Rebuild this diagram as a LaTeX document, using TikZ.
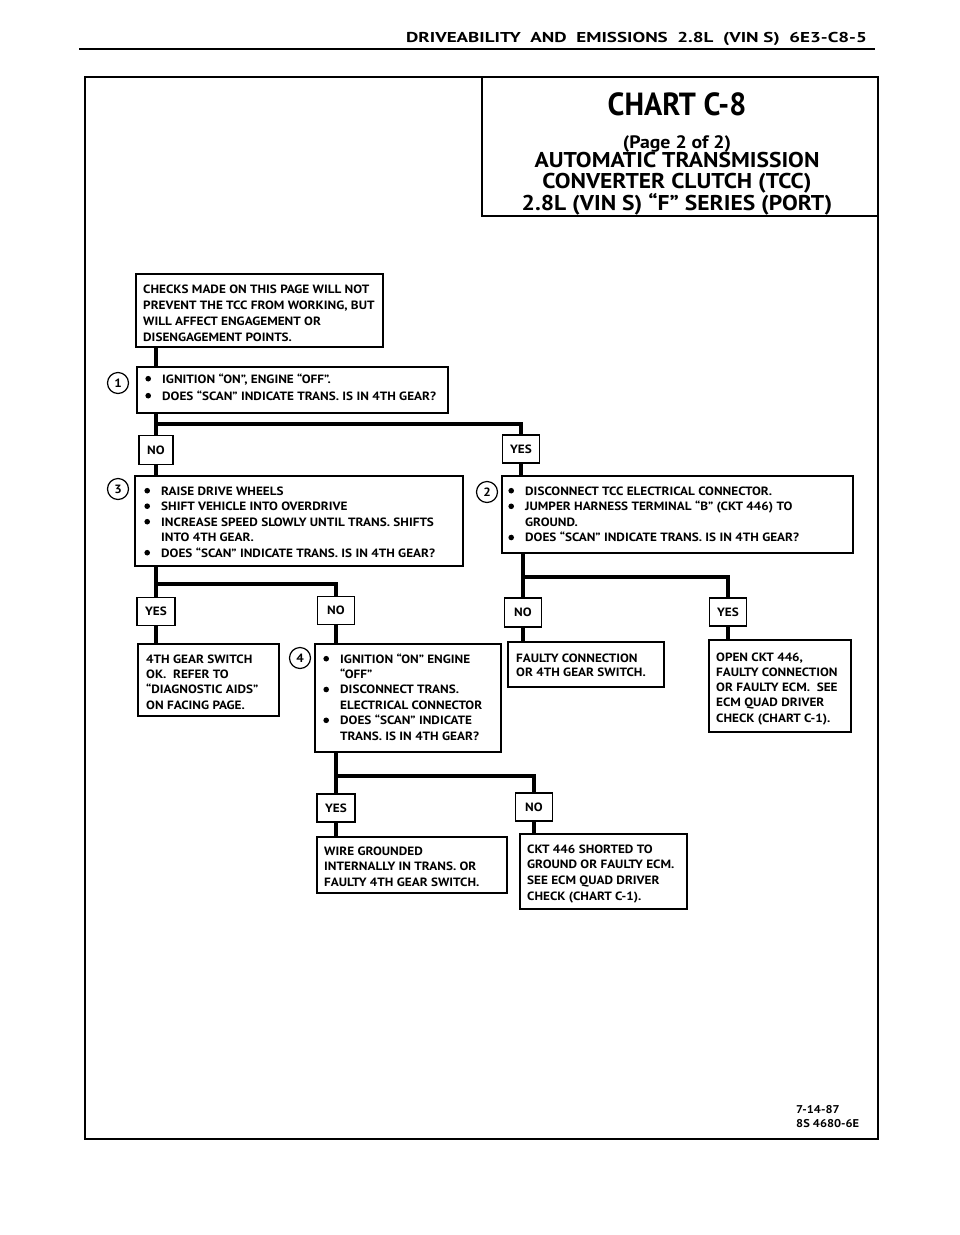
\documentclass[tikz,border=0pt]{standalone}
\usepackage{fontspec}
\setmainfont{PT Sans}
\newfontfamily\bodyfont{PT Sans}[FakeStretch=1.1]
\usetikzlibrary{calc,fit}
\tikzset{
  box/.style={draw, line width=1.5pt, inner sep=0pt},
  frame/.style={draw, line width=2pt, inner sep=0pt},
  conn/.style={line width=3.8pt, line join=miter, line cap=butt},
  yn/.style={draw, line width=1.5pt, inner sep=0pt, minimum width=37pt, minimum height=28pt, font=\bodyfont\bfseries\fontsize{12}{13}\selectfont},
  num/.style={circle, draw, line width=1.2pt, minimum size=21pt, inner sep=0pt, font=\bodyfont\bfseries\fontsize{12}{13}\selectfont},
  txt/.style={anchor=base west, inner sep=0pt, font=\bodyfont\bfseries\fontsize{12}{13}\selectfont},
  ttl/.style={anchor=base, inner sep=0pt},
}
\newcommand\bul{\llap{\tikz[baseline=0pt]\fill (0pt,4.3pt) circle (2.8pt);\hspace{11.2pt}}}
\newcommand\lines[5]{\foreach \t [count=\i] in {#5}{\node[txt] (#1\i) at (#2,{#3+(\i-1)*#4}) {\t};}}
\begin{document}
\begin{tikzpicture}[x=1pt,y=-1pt]
\useasboundingbox (0,0) rectangle (960,1235);
% header
\node[anchor=base east, inner sep=0pt, font=\bfseries\fontsize{14.3}{16}\selectfont] (head) at (867,42) {\scalebox{1.33}[1]{DRIVEABILITY\ \ AND\ \ EMISSIONS\ \ 2.8L\ \ (VIN S)\ \ 6E3-C8-5}};
\coordinate (rl) at (79,49);
\coordinate (rr) at (875,49);
\draw[line width=2pt] (rl) -- (rr);
% outer frame and title box
\node[frame, fit={(85,77) (878,1139)}] (outer) {};
\node[box, fit={(482,77) (878,216)}] (title) {};
\node[ttl, font=\bfseries\fontsize{32}{34}\selectfont] (t1) at (677,115) {\scalebox{0.94}[1]{CHART C-8}};
\node[ttl, font=\bodyfont\bfseries\fontsize{18}{20}\selectfont] (t2) at (677,148) {(Page 2 of 2)};
\node[ttl, font=\bodyfont\bfseries\fontsize{21.4}{23}\selectfont] (t3) at (677,167) {AUTOMATIC TRANSMISSION};
\node[ttl, font=\bodyfont\bfseries\fontsize{21.4}{23}\selectfont] (t4) at (677,188) {CONVERTER CLUTCH (TCC)};
\node[ttl, font=\bodyfont\bfseries\fontsize{21.4}{23}\selectfont] (t5) at (677,210) {2.8L (VIN S) “F” SERIES (PORT)};
% boxes
\node[box, fit={(136,274) (383,347)}] (checks) {};
\lines{ck}{143}{293}{16}{{CHECKS MADE ON THIS PAGE WILL NOT},{PREVENT THE TCC FROM WORKING, BUT},{WILL AFFECT ENGAGEMENT OR},{DISENGAGEMENT POINTS.}}
\node[box, fit={(137,367) (448,413)}] (s1) {};
\lines{sa}{162}{383}{17}{{\bul IGNITION “ON”, ENGINE “OFF”.},{\bul DOES “SCAN” INDICATE TRANS. IS IN 4TH GEAR?}}
\node[num] (c1) at (118,383) {1};
\node[yn, minimum width=34pt, minimum height=29pt] (no1) at (156,450) {NO};
\node[yn] (yes1) at (521,449) {YES};
\node[box, fit={(135,476) (463,566)}] (s3) {};
\lines{sc}{161}{495}{15.5}{{\bul RAISE DRIVE WHEELS},{\bul SHIFT VEHICLE INTO OVERDRIVE},{\bul INCREASE SPEED SLOWLY UNTIL TRANS. SHIFTS},{INTO 4TH GEAR.},{\bul DOES “SCAN” INDICATE TRANS. IS IN 4TH GEAR?}}
\node[num] (c3) at (118,489) {3};
\node[box, fit={(502,476) (853,553)}] (s2) {};
\lines{sb}{525}{495}{15.6}{{\bul DISCONNECT TCC ELECTRICAL CONNECTOR.},{\bul JUMPER HARNESS TERMINAL “B” (CKT 446) TO},{GROUND.},{\bul DOES “SCAN” INDICATE TRANS. IS IN 4TH GEAR?}}
\node[num] (c2) at (487,492) {2};
\node[yn, minimum width=38pt] (yes3) at (156,611.5) {YES};
\node[yn] (no3) at (336,610.5) {NO};
\node[yn, minimum height=29pt] (no2) at (523,612.5) {NO};
\node[yn] (yes2) at (728,612) {YES};
\node[box, fit={(138,644) (279,716)}] (gear) {};
\lines{gs}{146}{663}{15.4}{{4TH GEAR SWITCH},{OK.\ \ REFER TO},{“DIAGNOSTIC AIDS”},{ON FACING PAGE.}}
\node[box, fit={(315,644) (501,752)}] (s4) {};
\lines{sd}{340}{663}{15.4}{{\bul IGNITION “ON” ENGINE},{“OFF”},{\bul DISCONNECT TRANS.},{ELECTRICAL CONNECTOR},{\bul DOES “SCAN” INDICATE},{TRANS. IS IN 4TH GEAR?}}
\node[num] (c4) at (300,658) {4};
\node[box, fit={(508,642) (664,687)}] (faulty) {};
\lines{fc}{516}{662}{14.5}{{FAULTY CONNECTION},{OR 4TH GEAR SWITCH.}}
\node[box, fit={(709,640) (851,732)}] (open) {};
\lines{oc}{716}{661}{15.3}{{OPEN CKT 446,},{FAULTY CONNECTION},{OR FAULTY ECM.\ \ SEE},{ECM QUAD DRIVER},{CHECK (CHART C-1).}}
\node[yn, minimum width=38pt] (yes4) at (336,808) {YES};
\node[yn] (no4) at (534,807) {NO};
\node[box, fit={(317,837) (507,893)}] (wire) {};
\lines{wg}{324}{855}{15.5}{{WIRE GROUNDED},{INTERNALLY IN TRANS. OR},{FAULTY 4TH GEAR SWITCH.}}
\node[box, fit={(520,834) (687,909)}] (ckt) {};
\lines{ks}{527}{853}{15.7}{{CKT 446 SHORTED TO},{GROUND OR FAULTY ECM.},{SEE ECM QUAD DRIVER},{CHECK (CHART C-1).}}
% date
\node[txt, font=\bodyfont\bfseries\fontsize{11.3}{12}\selectfont] (d1) at (796,1113) {7-14-87};
\node[txt, font=\bodyfont\bfseries\fontsize{11.3}{12}\selectfont] (d2) at (796,1127) {8S 4680-6E};
% connectors
\draw[conn] (checks.south -| no1) -- (s1.north -| no1);
\draw[conn] (s1.south -| no1) -- (no1.north);
\draw[conn] ($(s1.south -| no1)+(0,10)$) -| (yes1.north);
\draw[conn] (no1.south) -- (s3.north -| no1);
\draw[conn] (yes1.south) -- (s2.north -| yes1);
\draw[conn] (s3.south -| yes3) -- (yes3.north);
\draw[conn] ($(s3.south -| yes3)+(0,17)$) -| (no3.north);
\draw[conn] (yes3.south) -- (gear.north -| yes3);
\draw[conn] (no3.south) -- (s4.north -| no3);
\draw[conn] (s2.south -| no2) -- (no2.north);
\draw[conn] ($(s2.south -| no2)+(0,23)$) -| (yes2.north);
\draw[conn] (no2.south) -- (faulty.north -| no2);
\draw[conn] (yes2.south) -- (open.north -| yes2);
\draw[conn] (s4.south -| yes4) -- (yes4.north);
\draw[conn] ($(s4.south -| yes4)+(0,23)$) -| (no4.north);
\draw[conn] (yes4.south) -- (wire.north -| yes4);
\draw[conn] (no4.south) -- (ckt.north -| no4);
\end{tikzpicture}
\end{document}
